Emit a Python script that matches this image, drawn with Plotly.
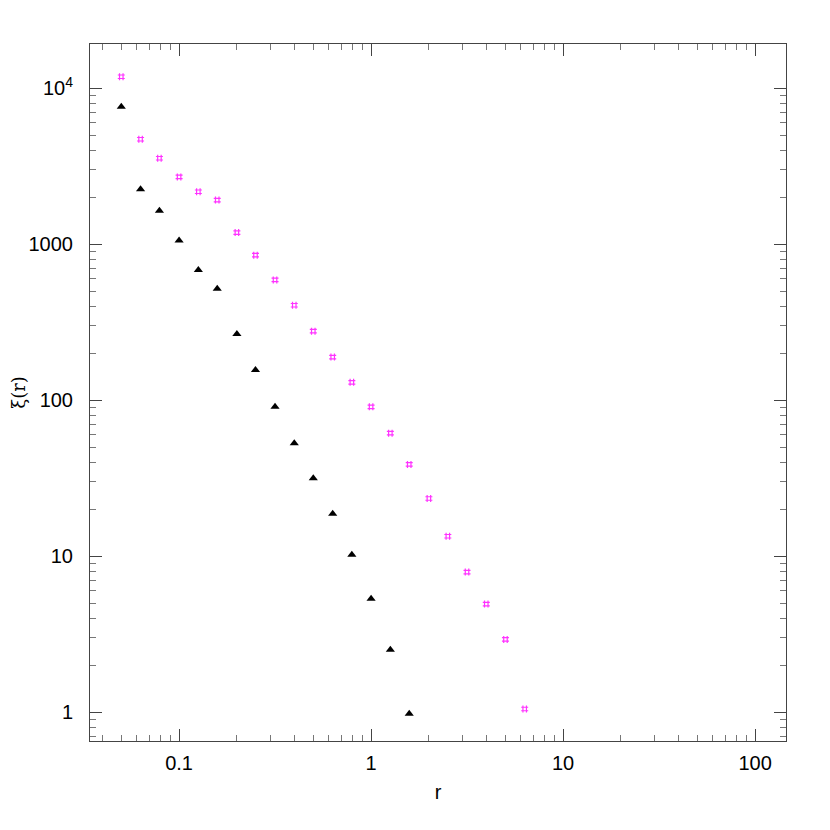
import plotly.graph_objects as go

# separation r, log-spaced bins
r_all = [0.05, 0.063, 0.079, 0.1, 0.126, 0.158, 0.2, 0.25, 0.316, 0.398, 0.5,
         0.631, 0.794, 1.0, 1.26, 1.58, 2.0, 2.51, 3.16, 3.98, 5.01, 6.31]

# magenta series (open hash markers)
xi_magenta = [11860, 4710, 3560, 2700, 2170, 1920, 1187, 850, 590, 406, 277,
              189, 130, 90.6, 61.4, 38.7, 23.4, 13.4, 7.9, 4.92, 2.92, 1.045]

# black series (filled triangles)
r_black = r_all[:16]
xi_black = [7620, 2250, 1640, 1055, 684, 519, 266, 156, 90.6, 53, 31.6,
            18.7, 10.2, 5.33, 2.51, 0.975]

x_ticks = [0.1, 1, 10, 100]
x_ticktext = ["0.1", "1", "10", "100"]
y_ticks = [1, 10, 100, 1000, 10000]
y_ticktext = ["1", "10", "100", "1000", "10<sup>4</sup>"]

minor_x = [k * 10 ** n for n in range(-2, 3) for k in range(2, 10)]
minor_y = [k * 10 ** n for n in range(-1, 5) for k in range(2, 10)]

fig = go.Figure()

fig.add_trace(go.Scatter(
    x=r_all, y=xi_magenta, mode="markers",
    marker=dict(symbol="hash-open", size=7, color="#ff33ff",
                line=dict(color="#ff33ff", width=1.2)),
    showlegend=False,
))
fig.add_trace(go.Scatter(
    x=r_black, y=xi_black, mode="markers",
    marker=dict(symbol="triangle-up", size=8, color="black"),
    showlegend=False,
))

axis_common = dict(
    type="log",
    automargin=False,
    showgrid=False,
    zeroline=False,
    showline=True,
    linecolor="#444",
    linewidth=1,
    mirror="allticks",
    ticks="inside",
    ticklen=12,
    tickwidth=1,
    tickcolor="#444",
    tickfont=dict(family="Liberation Sans", size=20, color="black"),
)

fig.update_xaxes(
    **axis_common,
    range=[-1.464, 2.161],
    tickvals=x_ticks,
    ticktext=x_ticktext,
    ticklabelstandoff=4,
    minor=dict(tickvals=minor_x, ticks="inside", ticklen=6, tickcolor="#777"),
    title=dict(text="r", font=dict(family="Liberation Sans", size=20, color="black"),
               standoff=11),
)
fig.update_yaxes(
    **axis_common,
    range=[-0.186, 4.284],
    tickvals=y_ticks,
    ticktext=y_ticktext,
    ticklabelstandoff=12,
    minor=dict(tickvals=minor_y, ticks="inside", ticklen=6, tickcolor="#777"),
    title=dict(text="ξ(r)", font=dict(family="DejaVu Serif", size=18, color="black"),
               standoff=2),
)

fig.update_layout(
    width=830,
    height=830,
    margin=dict(l=82, r=52, t=36, b=97),
    plot_bgcolor="white",
    paper_bgcolor="white",
)

fig.write_html("out.html")
